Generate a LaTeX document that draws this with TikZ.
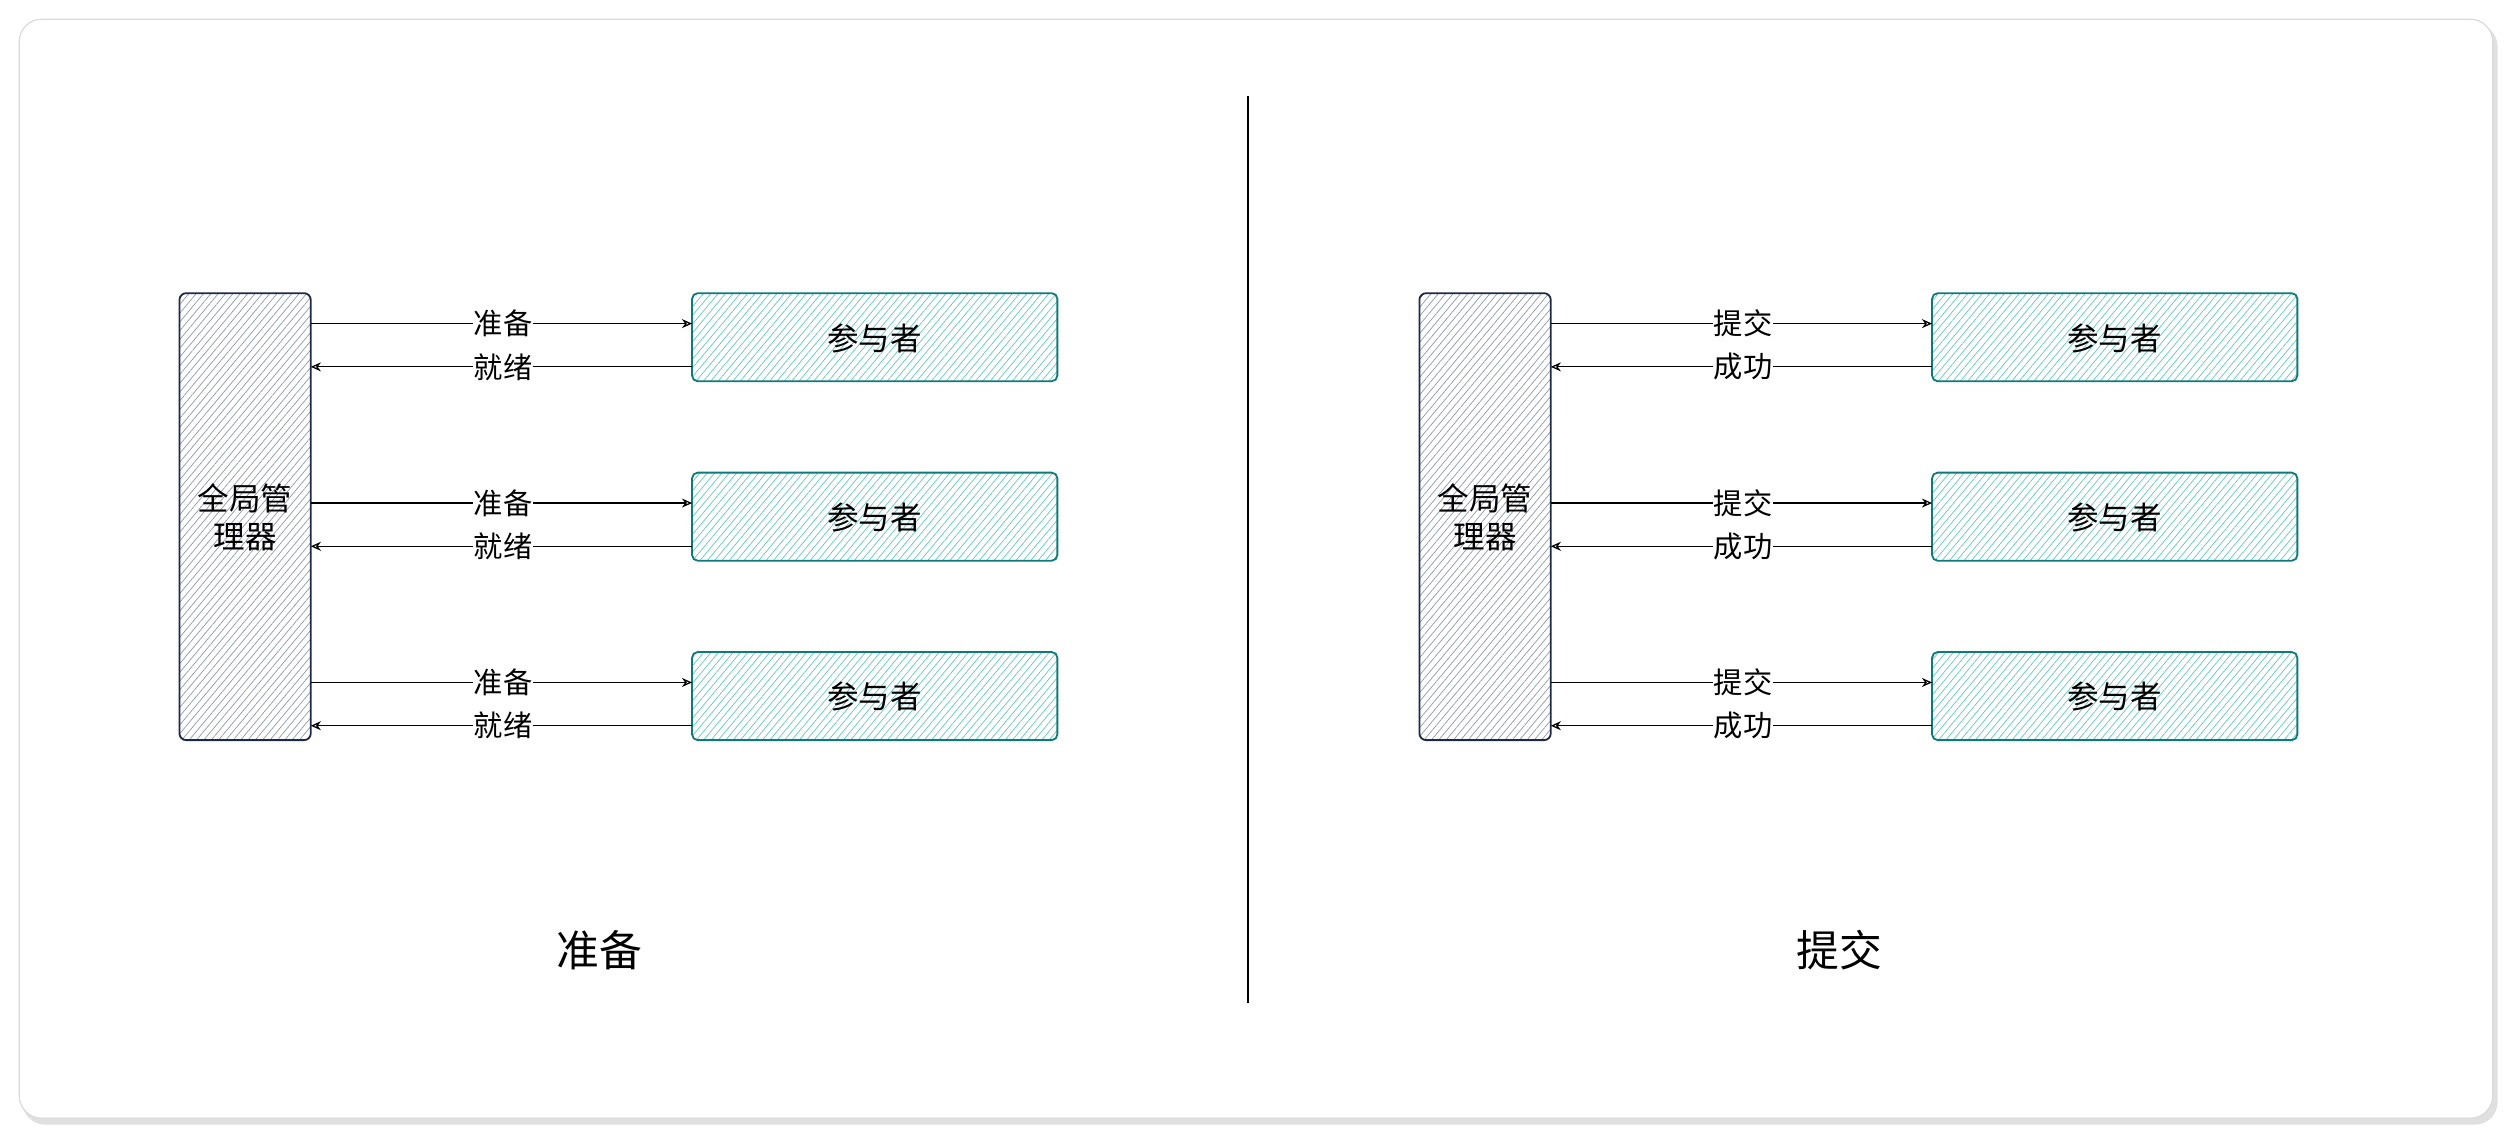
\documentclass[tikz,border=0pt]{standalone}
\usepackage{fontspec}
\setmainfont{Noto Sans CJK SC}
\usetikzlibrary{patterns.meta,arrows.meta}
\definecolor{navy}{HTML}{1E2A44}
\definecolor{teal}{HTML}{0F7A7A}
\definecolor{hatchg}{HTML}{8C96AA}
\definecolor{hatcht}{HTML}{5CC7BF}
\tikzset{
 mgr/.style={draw=navy,line width=1.6pt,rounded corners=6pt,pattern={Lines[angle=50,distance=5pt,line width=0.6pt]},pattern color=hatchg},
 part/.style={draw=teal,line width=1.6pt,rounded corners=5pt,pattern={Lines[angle=50,distance=5pt,line width=0.6pt]},pattern color=hatcht},
 txt/.style={font=\fontsize{28}{34}\selectfont,text=black},
 lbl/.style={font=\fontsize{26}{30}\selectfont,fill=white,inner sep=1pt},
 arr/.style={draw=black,line width=1.1pt,-{Stealth[open,length=9pt,width=8pt]}},
 ttl/.style={font=\fontsize{38}{44}\selectfont}
}
\begin{document}
\begin{tikzpicture}[x=0.5mm,y=-0.5mm]
\useasboundingbox (0,0) rectangle (1568,712);
\fill[black!12,rounded corners=20pt] (14,15) rectangle (1559,702);
\filldraw[fill=white,draw=black!15,line width=1pt,rounded corners=20pt] (12,12) rectangle (1556,698);
\draw[line width=1.2pt] (779,60) -- (779,626);
\foreach \ox/\a/\b/\t in {0/准备/就绪/准备, 774/提交/成功/提交}{
 \begin{scope}[xshift=\ox*0.5mm]
 \path[mgr] (112,183) rectangle (194,462);
 \node[txt,align=center] (m) at (153,323) {全局管\\理器};
 \foreach \i/\dy in {1/0,2/112,3/224}{
  \path[part] (432,183+\dy) rectangle (660,238+\dy);
  \node[txt] (p\i) at (546,211+\dy) {参与者};
  \coordinate (ms\i) at (194,202+\dy); \coordinate (pe\i) at (432,202+\dy);
  \coordinate (pr\i) at (432,229+\dy); \coordinate (mr\i) at (194,229+\dy);
  \draw[arr] (ms\i) -- (pe\i);
  \draw[arr] (pr\i) -- (mr\i);
  \node[lbl] at (314,202+\dy) {\a};
  \node[lbl] at (314,229+\dy) {\b};
 }
 \node[ttl] at (374,593) {\t};
 \end{scope}}
\end{tikzpicture}
\end{document}
